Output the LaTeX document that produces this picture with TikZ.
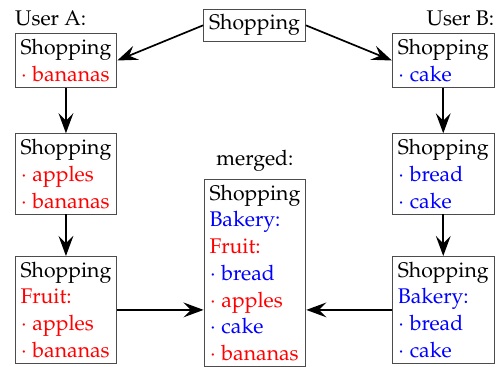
\documentclass[tikz,border=0pt]{standalone}
\usepackage[T1]{fontenc}
\usepackage{mathpazo}
\linespread{1.05}
\usetikzlibrary{arrows.meta}

\begin{document}
\begin{tikzpicture}[x=0.4717pt,y=-0.4717pt,
	list/.style={draw=black!70,align=left,inner sep=2.6pt},
	flow/.style={thick,-{Stealth[length=9.5pt,width=7pt,inset=3.5pt]}}]
		\useasboundingbox (0,0) rectangle (500,366);
		% the shared start
		\node [list] (top) at (254.5,25.3) {Shopping};
		% user A
		\node [list,anchor=north west,label={[anchor=south west,inner xsep=0pt]north west:{User A:}}] (a1) at (14.6,33.3)
			{Shopping\\\textcolor{red}{$\cdot$ bananas}};
		\node [list,anchor=north west] (a2) at (14.6,133.3)
			{Shopping\\\textcolor{red}{$\cdot$ apples}\\\textcolor{red}{$\cdot$ bananas}};
		\node [list,anchor=north west] (a3) at (14.6,256)
			{Shopping\\\textcolor{red}{Fruit:}\\\textcolor{red}{$\cdot$ apples}\\\textcolor{red}{$\cdot$ bananas}};
		% user B
		\node [list,anchor=north east,label={[anchor=south east,inner xsep=0pt]north east:{User B:}}] (b1) at (494.6,33.3)
			{Shopping\\\textcolor{blue}{$\cdot$ cake}};
		\node [list,anchor=north east] (b2) at (494.6,133.3)
			{Shopping\\\textcolor{blue}{$\cdot$ bread}\\\textcolor{blue}{$\cdot$ cake}};
		\node [list,anchor=north east] (b3) at (494.6,256)
			{Shopping\\\textcolor{blue}{Bakery:}\\\textcolor{blue}{$\cdot$ bread}\\\textcolor{blue}{$\cdot$ cake}};
		% result
		\node [list,anchor=north west,label={above:{merged:}}] (m) at (203.6,179)
			{Shopping\\\textcolor{blue}{Bakery:}\\\textcolor{red}{Fruit:}\\\textcolor{blue}{$\cdot$ bread}\\
			\textcolor{red}{$\cdot$ apples}\\\textcolor{blue}{$\cdot$ cake}\\\textcolor{red}{$\cdot$ bananas}};
		\draw [flow] (top.west) -- (a1.east);
		\draw [flow] (top.east) -- (b1.west);
		\draw [flow] (a1) -- (a2);
		\draw [flow] (a2) -- (a3);
		\draw [flow] (b1) -- (b2);
		\draw [flow] (b2) -- (b3);
		\draw [flow] (a3.east) -- (a3.east -| m.west);
		\draw [flow] (b3.west) -- (b3.west -| m.east);
\end{tikzpicture}
\end{document}
